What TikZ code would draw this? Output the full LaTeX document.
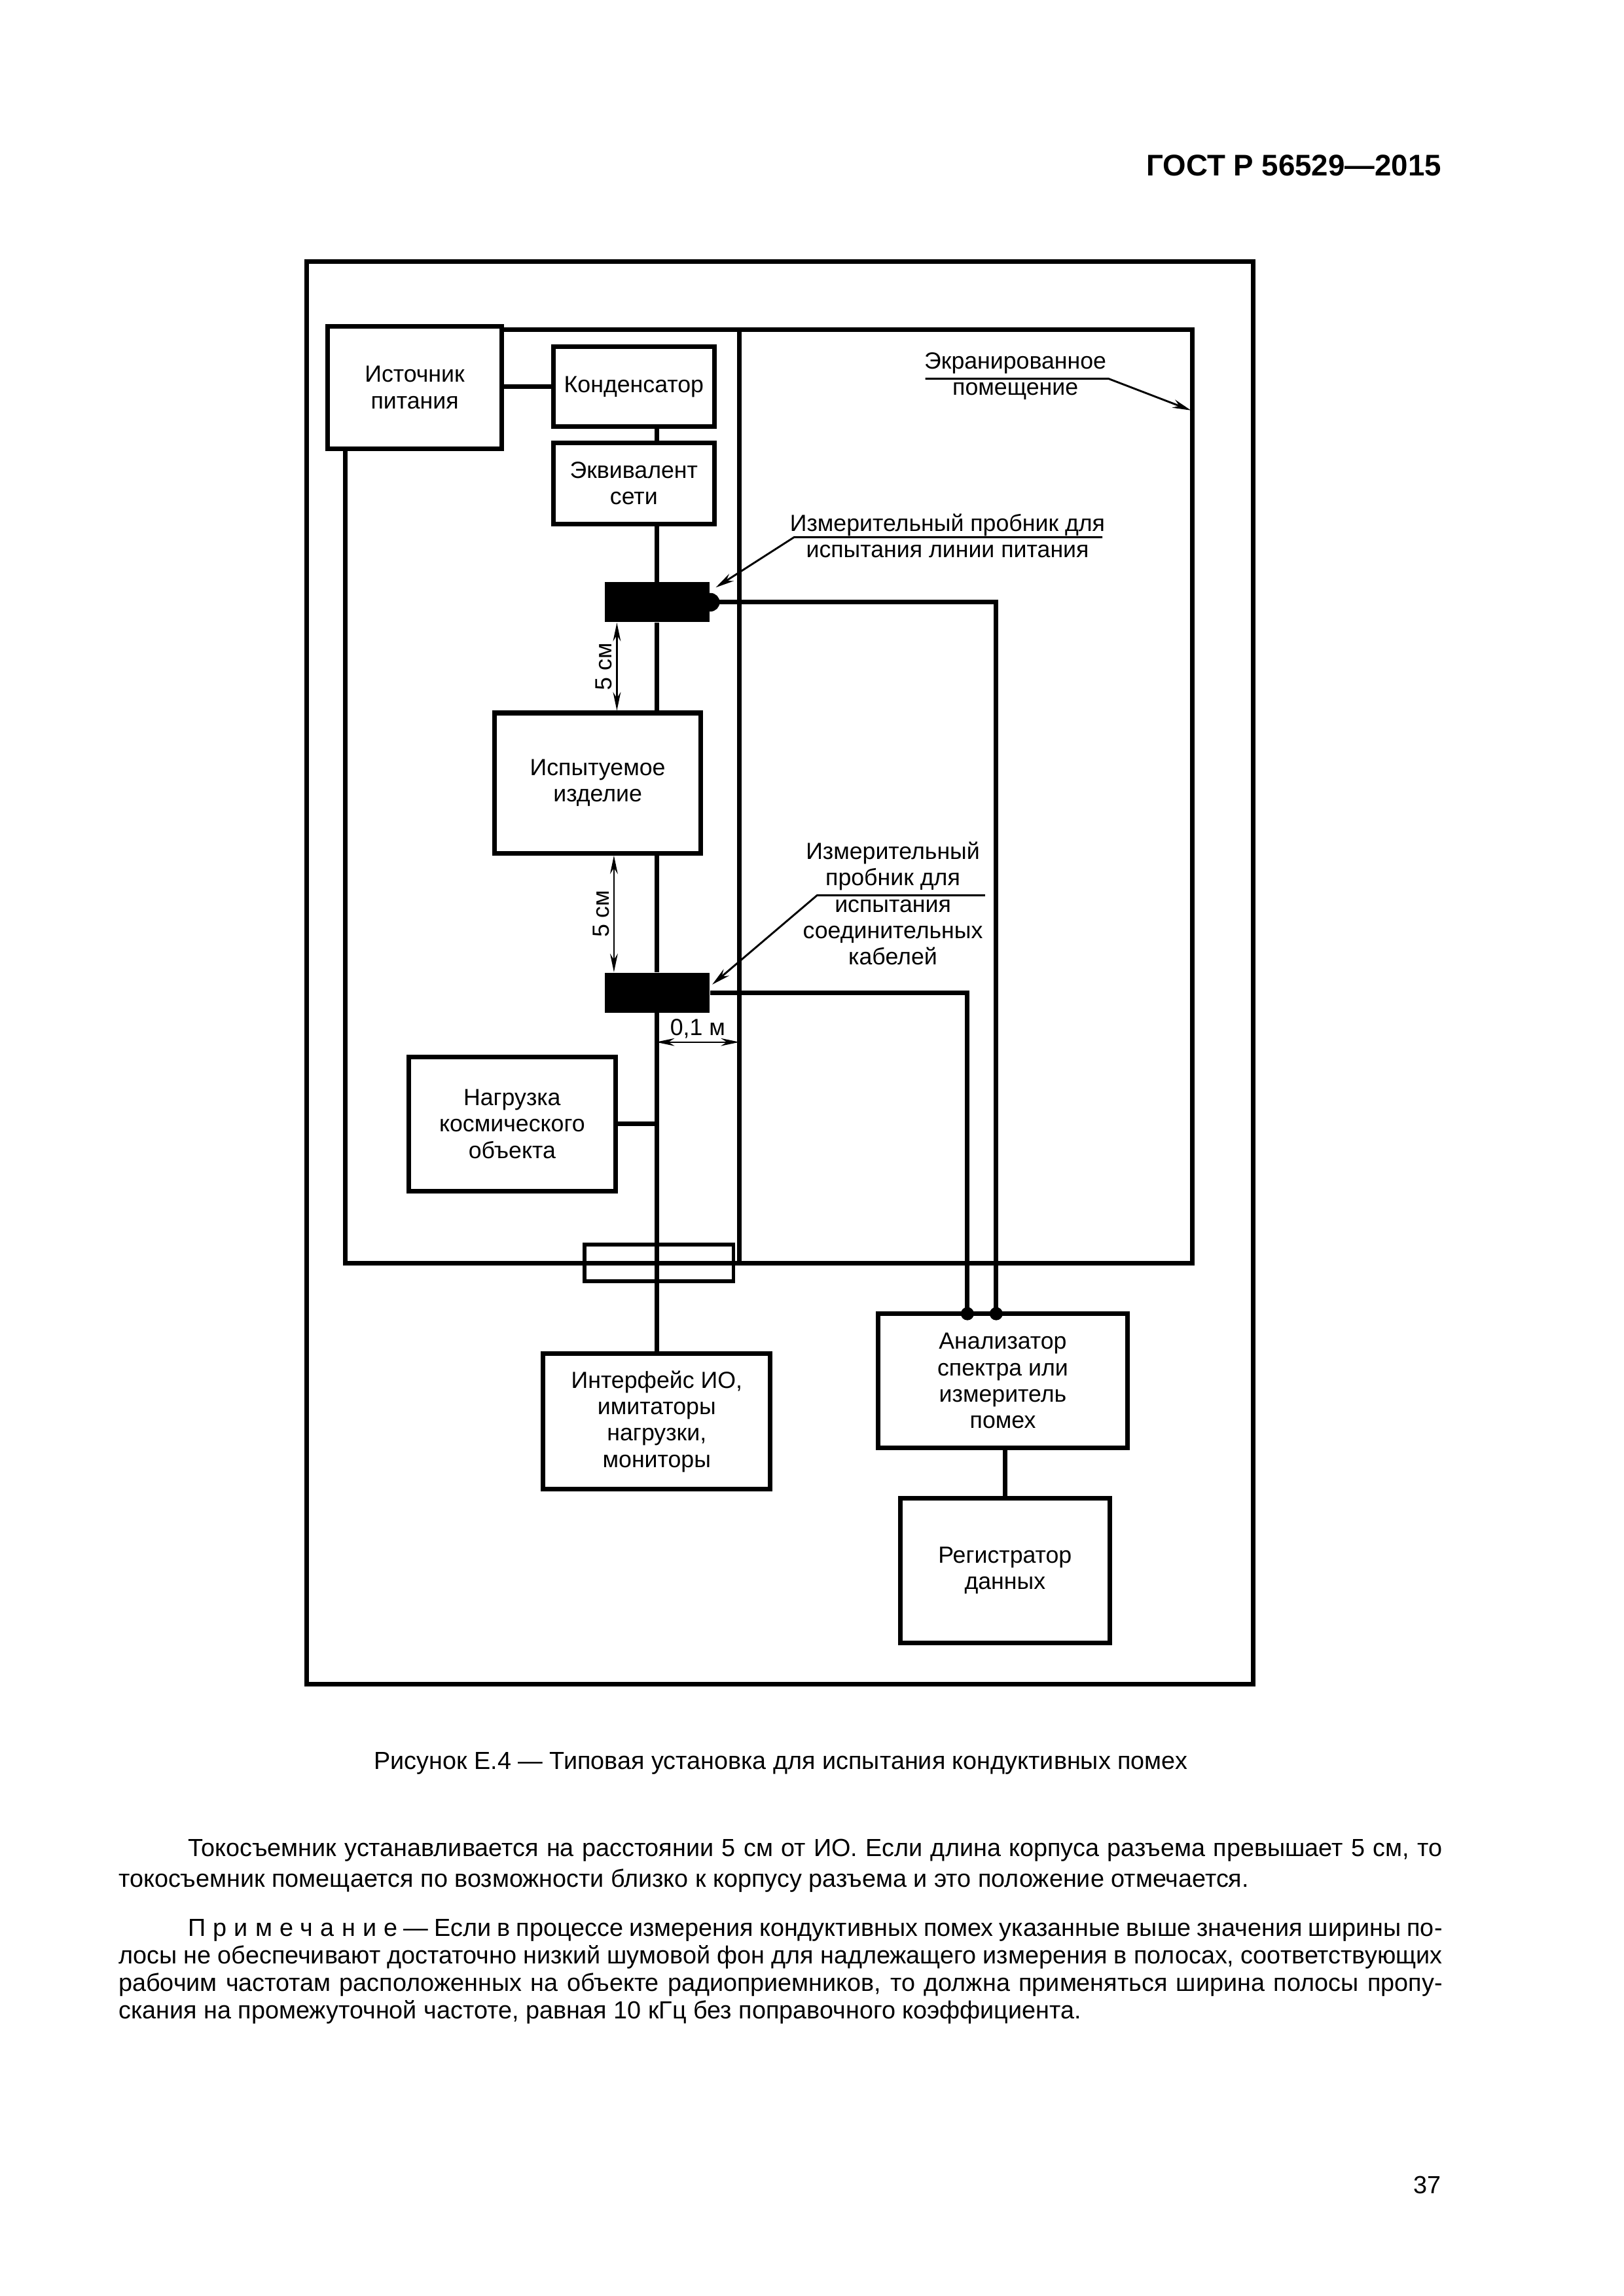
\documentclass[tikz,border=0pt]{standalone}
\usepackage{fontspec}
\setmainfont{Liberation Sans}
\usetikzlibrary{arrows.meta}

\newlength\px
\setlength\px{0.190909mm}

\tikzset{
  blok/.style={draw, line width=1.7pt, fill=white, align=center, inner sep=0pt,
    font=\fontsize{8.6}{9.7}\selectfont},
  probnik/.style={fill=black, inner sep=0pt},
  provod/.style={line width=1.7pt},
  nadpis/.style={align=center, inner sep=0pt, font=\fontsize{8.6}{9.7}\selectfont},
  vynoska/.style={line width=0.7pt, -{Stealth[length=2.4mm, width=1.1mm]}},
  razmer/.style={line width=0.6pt, {Stealth[length=2.4mm, width=1mm]}-{Stealth[length=2.4mm, width=1mm]}},
  tekst/.style={inner sep=0pt, font=\fontsize{9.1}{11.4}\selectfont},
}

\begin{document}
\begin{tikzpicture}[x=1\px, y=-1\px]
\useasboundingbox (0,0) rectangle (1100,1555.5);

\node[anchor=base east, inner sep=0pt, font=\bfseries\fontsize{11}{13}\selectfont] (shapka) at (977,119) {ГОСТ Р 56529—2015};

% рамка и экранированное помещение
\draw[line width=1.7pt] (208,177) rectangle (849,1141);
\draw[line width=1.7pt] (234,223.5) rectangle (808,856);
\coordinate (stena1) at (501,223.5);
\coordinate (stena2) at (501,856);
\draw[line width=1.6pt] (stena1) -- (stena2);

% блоки
\node[blok, minimum width=118\px, minimum height=83\px] (istochnik) at (281,262.5) {Источник\\питания};
\node[blok, minimum width=109\px, minimum height=54\px] (kondensator) at (429.5,262) {Конденсатор};
\node[blok, minimum width=109\px, minimum height=55\px] (ekvivalent) at (429.5,327.5) {Эквивалент\\сети};
\node[blok, minimum width=140\px, minimum height=95\px] (izdelie) at (405,530.5) {Испытуемое\\изделие};
\node[blok, minimum width=140\px, minimum height=91\px] (nagruzka) at (347,761.5) {Нагрузка\\космического\\объекта};
\node[blok, minimum width=154\px, minimum height=92\px] (interfeis) at (445,963) {Интерфейс ИО,\\имитаторы\\нагрузки,\\мониторы};
\node[blok, minimum width=169\px, minimum height=91\px] (analizator) at (679.5,935.5) {Анализатор\\спектра или\\измеритель\\помех};
\node[blok, minimum width=142\px, minimum height=98\px] (registrator) at (681,1064) {Регистратор\\данных};

% пробники
\node[probnik, minimum width=71\px, minimum height=27\px] (probnik1) at (445.5,408) {};
\fill (probnik1.east) circle[radius=1.2mm];
\node[probnik, minimum width=71\px, minimum height=27\px] (probnik2) at (445.5,672.5) {};

% линия питания
\draw[provod] (istochnik.east |- kondensator.west) -- (kondensator.west);
\draw[provod] (kondensator.south -| interfeis.north) -- (ekvivalent.north -| interfeis.north)
  (ekvivalent.south -| interfeis.north) -- (probnik1.north -| interfeis.north)
  (probnik1.south -| interfeis.north) -- (izdelie.north -| interfeis.north)
  (izdelie.south -| interfeis.north) -- (probnik2.north -| interfeis.north)
  (probnik2.south -| interfeis.north) -- (interfeis.north);
\draw[provod] (nagruzka.east) -- (nagruzka.east -| interfeis.north);
\node[draw, line width=1.4pt, inner sep=0pt, minimum width=101\px, minimum height=25\px] (proxod) at (446.5,855.5) {};

% кабели к анализатору
\coordinate (vvod1) at (675,890);
\coordinate (vvod2) at (655.5,890);
\draw[provod] (probnik1.east) -| (vvod1);
\draw[provod] (probnik2.east) -| (vvod2);
\fill (vvod1) circle[radius=0.85mm];
\fill (vvod2) circle[radius=0.85mm];
\draw[provod] (analizator.south -| registrator.north) -- (registrator.north);

% выноски
\node[nadpis] (ekran) at (688,255) {Экранированное\\помещение};
\coordinate (polka0a) at (627,256.5);
\coordinate (polka0b) at (751,256.5);
\coordinate (strelka0) at (807,278);
\draw[vynoska] (polka0a) -- (polka0b) -- (strelka0);

\node[nadpis] (lblprobnik1) at (642,363) {Измерительный пробник для\\испытания линии питания};
\coordinate (polka1a) at (747,364);
\coordinate (polka1b) at (538,364);
\coordinate (strelka1) at (485,398);
\draw[vynoska] (polka1a) -- (polka1b) -- (strelka1);

\node[nadpis, anchor=south] (lblprobnik2a) at (605,603.5) {Измерительный\\пробник для};
\node[nadpis, anchor=north] (lblprobnik2b) at (605,609) {испытания\\соединительных\\кабелей};
\coordinate (polka2a) at (667.5,606.6);
\coordinate (polka2b) at (553.6,606.6);
\coordinate (strelka2) at (482.6,667);
\draw[vynoska] (polka2a) -- (polka2b) -- (strelka2);

% размеры
\draw[razmer] ([xshift=-27.5\px]probnik1.south) -- ([xshift=-27.5\px]probnik1.south |- izdelie.north)
  node[midway, rotate=90, above=1.5pt, nadpis] {5 см};
\draw[razmer] ([xshift=-29.5\px]izdelie.south -| probnik2.north) -- ([xshift=-29.5\px]probnik2.north)
  node[midway, rotate=90, above=1.5pt, nadpis] {5 см};
\coordinate (razmer3) at (444.5,706);
\draw[razmer] (razmer3) -- (stena2 |- razmer3) node[midway, above=1pt, nadpis] {0,1 м};

% подпись и текст
\node[anchor=base, tekst] (podpis) at (529,1198.5) {Рисунок Е.4 — Типовая установка для испытания кондуктивных помех};
\node[anchor=base west, tekst, align=left] (abzac1) at (80,1278.5)
  {\hspace*{47\px}\makebox[850\px][s]{Токосъемник устанавливается на расстоянии 5 см от ИО. Если длина корпуса разъема превышает 5 см, то}\\
   токосъемник помещается по возможности близко к корпусу разъема и это положение отмечается.};
\node[anchor=base west, inner sep=0pt, align=left, font=\fontsize{9.1}{10.1}\selectfont] (primechanie) at (80,1367.5)
  {\hspace*{47\px}\makebox[850\px][s]{{\addfontfeatures{LetterSpace=30}Примечание} — Если в процессе измерения кондуктивных помех указанные выше значения ширины по-}\\
   \makebox[897\px][s]{лосы не обеспечивают достаточно низкий шумовой фон для надлежащего измерения в полосах, соответствующих}\\
   \makebox[897\px][s]{рабочим частотам расположенных на объекте радиоприемников, то должна применяться ширина полосы пропу-}\\
   скания на промежуточной частоте, равная 10 кГц без поправочного коэффициента.};
\node[anchor=base east, tekst] (stranica) at (977,1486) {37};
\end{tikzpicture}
\end{document}
